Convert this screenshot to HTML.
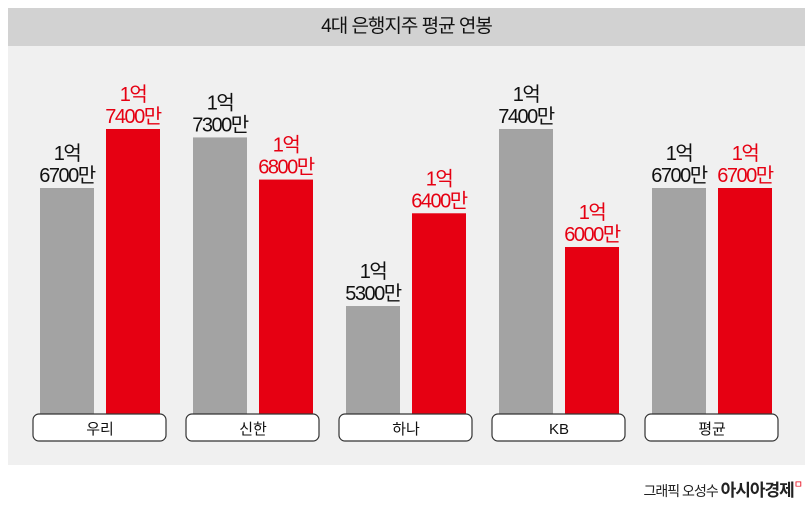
<!DOCTYPE html>
<html><head><meta charset="utf-8"><style>
body{margin:0;width:812px;height:507px;background:#fff;overflow:hidden;font-family:"Liberation Sans","Noto Sans CJK KR",sans-serif;}
#title{position:absolute;left:8px;top:8px;width:797px;height:38px;background:#d2d2d2;text-align:center;line-height:38px;font-size:19px;letter-spacing:-1px;color:#111;}
#area{position:absolute;left:8px;top:46px;width:797px;height:419px;background:#f0f0f0;}
#foot{position:absolute;right:10px;top:476px;font-size:14px;color:#222;letter-spacing:-1px;}
#foot b{font-size:17px;}
svg{position:absolute;left:0;top:0;}
</style></head><body>
<div id="title">4대 은행지주 평균 연봉</div>
<div id="area"></div>
<svg id="chart" width="812" height="507"></svg>
<div id="foot">그래픽 오성수 <b>아시아경제</b><span style="color:#e60012;font-size:10px;vertical-align:top">ㅁ</span></div>
<script>
const categories=["우리","신한","하나","KB","평균"];
const grayValues=[16700,17300,15300,17400,16700];
const redValues=[17400,16800,16400,16000,16700];
const svg=document.getElementById('chart');
const NS='http://www.w3.org/2000/svg';
const base=414;
function y(v){return 188-(v-16700)*0.0843;}
function gx(i){return 40+i*153;}
function fmt(v){const a=Math.floor(v/10000),b=v%10000;return [a+"억",b?b+"만":""];}
function mk(t,attrs){const e=document.createElementNS(NS,t);for(const k in attrs)e.setAttribute(k,attrs[k]);svg.appendChild(e);return e;}
function label(cx,top,v,color,name){
  const [l1,l2]=fmt(v);
  const t1=mk('text',{x:cx,y:top-28,'text-anchor':'middle','font-size':20,fill:color,'letter-spacing':-1.5,'font-family':'"Liberation Sans","Noto Sans CJK KR",sans-serif'});
  t1.textContent=l1;
  
  
  const t2=mk('text',{x:cx,y:top-6,'text-anchor':'middle','font-size':20,fill:color,'letter-spacing':-1.5,'font-family':'"Liberation Sans","Noto Sans CJK KR",sans-serif'});
  t2.textContent=l2;
  
  
}
categories.forEach((c,i)=>{
  const x=gx(i);
  const gt=y(grayValues[i]), rt=y(redValues[i]);
  const g=mk('rect',{x:x,y:gt,width:54,height:base-gt,fill:'#a3a3a3'});
  
  
  const r=mk('rect',{x:x+66,y:rt,width:54,height:base-rt,fill:'#e60012'});
  
  
  label(x+27,gt,grayValues[i],'#111','gray-'+i);
  label(x+93,rt,redValues[i],'#e60012','red-'+i);
  const b=mk('rect',{x:x-7,y:414,width:133,height:27,rx:6,fill:'#fff',stroke:'#333','stroke-width':1.2});
  
  
  const t=mk('text',{x:x+60,y:434,'text-anchor':'middle','font-size':15,fill:'#111','font-family':'"Liberation Sans","Noto Sans CJK KR",sans-serif'});
  t.textContent=c;
  
  
});
</script>
</body></html>
